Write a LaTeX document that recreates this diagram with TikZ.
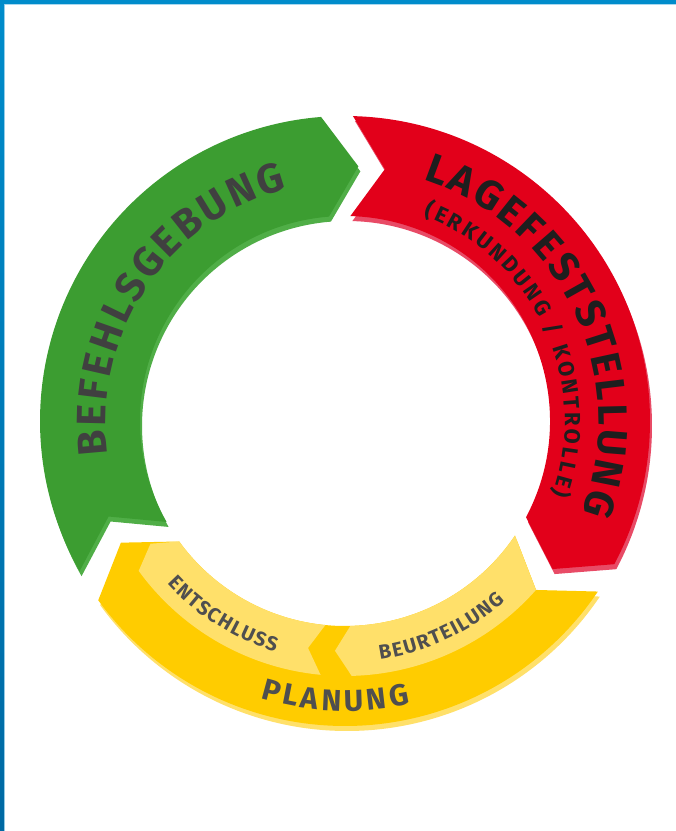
\documentclass[tikz,border=0pt]{standalone}
\usepackage{fontspec}
\setmainfont{Fira Sans}
\usetikzlibrary{decorations.text}
\definecolor{grn}{HTML}{3C9D31}
\definecolor{grnl}{HTML}{50AE47}
\definecolor{rd}{HTML}{E2001A}
\definecolor{rdl}{HTML}{E84B66}
\definecolor{yl}{HTML}{FFCC00}
\definecolor{yll}{HTML}{FFE06A}
\definecolor{txtd}{HTML}{404040}
\definecolor{txtr}{HTML}{1E1E1E}
\definecolor{txty}{HTML}{4F4F4F}
\definecolor{bluebar}{HTML}{008CCB}
\definecolor{bluebard}{HTML}{0069A3}
\definecolor{bluelt}{HTML}{A9D8EF}
% chevron ring segment: #1 tail angle, #2 head angle, #3 depth, #4 inner r, #5 mid r, #6 outer r
\newcommand{\chevseg}[6]{(#1:#6pt) arc[start angle=#1,end angle=#2,radius=#6pt] -- ({#2-#3}:#5pt) -- (#2:#4pt) arc[start angle=#2,end angle=#1,radius=#4pt] -- ({#1-#3}:#5pt) -- cycle}
\tikzset{
  shadowshift/.style={shift={(2pt,-5pt)}},
  bigtext/.style={decorate,decoration={text along path,text align={fit to path},text color=#1}},
}
\begin{document}
\begin{tikzpicture}[x=1pt,y=1pt]
\useasboundingbox (0,0) rectangle (676,831);
\fill[white] (0,0) rectangle (676,831);
% blue frame
\fill[bluelt] (0,826) rectangle (676,827);
\fill[bluelt] (4,0) rectangle (5,827);
\fill[bluebar] (0,827) rectangle (676,831);
\shade[top color=bluebar,bottom color=bluebard] (0,0) rectangle (4,831);
\begin{scope}[shift={(345,410)}]
  % shadows
  \begin{scope}[shadowshift]
    \fill[grnl] \chevseg{209.5}{94.5}{7.5}{205}{255}{305};
    \fill[rdl] \chevseg{88.5}{-28}{7.5}{205}{255}{305};
    \fill[yll] \chevseg{-34}{-144}{7.5}{205}{255}{305};
  \end{scope}
  % main segments
  \fill[grn] \chevseg{209.5}{94.5}{7.5}{205}{255}{305};
  \fill[rd] \chevseg{88.5}{-28}{7.5}{205}{255}{305};
  \fill[yl] \chevseg{-34}{-144}{7.5}{205}{255}{305};
  % inner light band of yellow
  \fill[yll] (-41.5:255pt) arc[start angle=-41.5,end angle=-88.5,radius=255pt] -- (-92.5:230pt) -- (-88.5:205pt) arc[start angle=-88.5,end angle=-34,radius=205pt] -- cycle;
  \fill[yll] \chevseg{-95.5}{-144}{3.75}{205}{230}{255};
  % texts
  \path[bigtext=txtd,decoration={text={|\fontsize{41}{41}\selectfont\bfseries|BEFEHLSGEBUNG}}]
    (188:239pt) arc[start angle=188,end angle=104,radius=239pt];
  \path[bigtext=txtr,decoration={text={|\fontsize{41}{41}\selectfont\bfseries|LAGEFESTSTELLUNG}}]
    (72:254pt) arc[start angle=72,end angle=-21,radius=254pt];
  \path[bigtext=txtr,decoration={text={|\fontsize{22}{22}\selectfont\bfseries|(ERKUNDUNG / KONTROLLE)}}]
    (69:220pt) arc[start angle=69,end angle=-19.5,radius=220pt];
  \path[bigtext=txty,decoration={text={|\fontsize{30}{30}\selectfont\bfseries|PLANUNG}}]
    (-107:290pt) arc[start angle=-107,end angle=-77,radius=290pt];
  \path[bigtext=txty,decoration={text={|\fontsize{20}{20}\selectfont\bfseries|ENTSCHLUSS}}]
    (222.5:241pt) arc[start angle=222.5,end angle=253.2,radius=241pt];
  \path[bigtext=txty,decoration={text={|\fontsize{20}{20}\selectfont\bfseries|BEURTEILUNG}}]
    (-81.6:241pt) arc[start angle=-81.6,end angle=-48.3,radius=241pt];
\end{scope}
\end{tikzpicture}
\end{document}
